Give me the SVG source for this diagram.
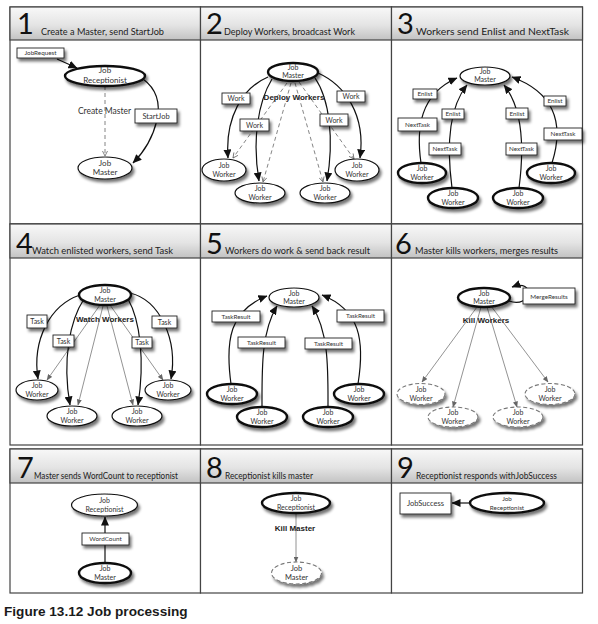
<svg xmlns="http://www.w3.org/2000/svg" width="598" height="624" viewBox="0 0 598 624">
<defs>
<linearGradient id="hdr" x1="0" y1="0" x2="0" y2="1">
<stop offset="0" stop-color="#f8f8f8"/><stop offset="0.55" stop-color="#e4e4e4"/><stop offset="1" stop-color="#c2c2c2"/>
</linearGradient>
<filter id="sh" x="-40%" y="-60%" width="180%" height="240%">
<feGaussianBlur in="SourceAlpha" stdDeviation="1.8"/><feOffset dx="1.5" dy="3" result="b"/>
<feComponentTransfer><feFuncA type="linear" slope="0.55"/></feComponentTransfer>
<feMerge><feMergeNode/><feMergeNode in="SourceGraphic"/></feMerge>
</filter>
<marker id="ah" markerUnits="userSpaceOnUse" markerWidth="9" markerHeight="8" refX="8.5" refY="4" orient="auto"><path d="M0,0 L9,4 L0,8 z" fill="#111"/></marker>
<marker id="oh" markerUnits="userSpaceOnUse" markerWidth="6" markerHeight="6" refX="5.5" refY="3" orient="auto"><path d="M0.5,0.5 L5.5,3 L0.5,5.5" fill="none" stroke="#666" stroke-width="0.8"/></marker>
<marker id="gh" markerUnits="userSpaceOnUse" markerWidth="6" markerHeight="5" refX="5.5" refY="2.5" orient="auto"><path d="M0,0 L6,2.5 L0,5 z" fill="#666"/></marker>
<style>
.pb{fill:#fff;stroke:#444;stroke-width:1.2}
.hd{fill:url(#hdr);stroke:#444;stroke-width:1.2}
.num{font-family:Lato,"Liberation Sans",sans-serif;font-size:29px;fill:#111}
.ttl{font-family:Lato,"Liberation Sans",sans-serif;font-size:9px;fill:#222}
.n{fill:#fff;stroke:#111;stroke-width:1.2;filter:url(#sh)}
.nt{fill:#fff;stroke:#111;stroke-width:2.4;filter:url(#sh)}
.nd{fill:#fff;stroke:#777;stroke-width:1.1;stroke-dasharray:4 2.5;filter:url(#sh)}
.bx{fill:#fff;stroke:#222;stroke-width:0.9;filter:url(#sh)}
.t{font-family:Lato,"Liberation Sans",sans-serif;font-size:7px;text-anchor:middle;fill:#333}
.s{font-size:6.3px}
.c{fill:none;stroke:#111;stroke-width:1.2;marker-end:url(#ah)}
.d{fill:none;stroke:#777;stroke-width:0.9;stroke-dasharray:4 3;marker-end:url(#oh)}
.g{fill:none;stroke:#777;stroke-width:0.8;marker-end:url(#gh)}
.bl{font-family:"Liberation Sans",Arial,sans-serif;font-weight:bold;font-size:8px;text-anchor:middle;fill:#222}
</style>
</defs>

<g id="panels">
<rect class="pb" x="10" y="7" width="190.5" height="217"/>
<rect class="pb" x="200.5" y="7" width="191" height="217"/>
<rect class="pb" x="391.5" y="7" width="191" height="217"/>
<rect class="pb" x="10" y="224" width="190.5" height="221"/>
<rect class="pb" x="200.5" y="224" width="191" height="221"/>
<rect class="pb" x="391.5" y="224" width="191" height="221"/>
<rect class="pb" x="10" y="449" width="190.5" height="144"/>
<rect class="pb" x="200.5" y="449" width="191" height="144"/>
<rect class="pb" x="391.5" y="449" width="191" height="144"/>
<rect class="hd" x="10" y="7" width="190.5" height="33"/>
<rect class="hd" x="200.5" y="7" width="191" height="33"/>
<rect class="hd" x="391.5" y="7" width="191" height="33"/>
<rect class="hd" x="10" y="224" width="190.5" height="34"/>
<rect class="hd" x="200.5" y="224" width="191" height="34"/>
<rect class="hd" x="391.5" y="224" width="191" height="34"/>
<rect class="hd" x="10" y="449" width="190.5" height="34"/>
<rect class="hd" x="200.5" y="449" width="191" height="34"/>
<rect class="hd" x="391.5" y="449" width="191" height="34"/>
<text class="num" x="17" y="34">1</text>
<text class="ttl" x="41" y="35" textLength="123" lengthAdjust="spacingAndGlyphs">Create a Master, send StartJob</text>
<text class="num" x="206" y="34">2</text>
<text class="ttl" x="224" y="35" textLength="131" lengthAdjust="spacingAndGlyphs">Deploy Workers, broadcast Work</text>
<text class="num" x="397" y="34">3</text>
<text class="ttl" x="416" y="35" textLength="153" lengthAdjust="spacingAndGlyphs">Workers send Enlist and NextTask</text>
<text class="num" x="16" y="254">4</text>
<text class="ttl" x="32" y="254" textLength="141" lengthAdjust="spacingAndGlyphs">Watch enlisted workers, send Task</text>
<text class="num" x="206" y="254">5</text>
<text class="ttl" x="225" y="254" textLength="145" lengthAdjust="spacingAndGlyphs">Workers do work &amp; send  back result</text>
<text class="num" x="395" y="254">6</text>
<text class="ttl" x="415" y="254" textLength="143" lengthAdjust="spacingAndGlyphs">Master kills workers, merges results</text>
<text class="num" x="17" y="478">7</text>
<text class="ttl" x="34" y="479" textLength="144" lengthAdjust="spacingAndGlyphs">Master sends WordCount to receptionist</text>
<text class="num" x="206" y="478">8</text>
<text class="ttl" x="225" y="479" textLength="88" lengthAdjust="spacingAndGlyphs">Receptionist kills master</text>
<text class="num" x="397" y="478">9</text>
<text class="ttl" x="416" y="479" textLength="141" lengthAdjust="spacingAndGlyphs">Receptionist responds withJobSuccess</text>
</g>

<g id="connectors">
<!-- panel 1 -->
<path class="c" d="M57,59 L77,68"/>
<path class="d" d="M105,86 L105,156"/>
<path class="c" d="M143,79 C158,90 160,106 157,120 C153,137 144,152 133,163"/>
<!-- panel 2 -->
<path class="d" d="M287,83 L233,158"/>
<path class="d" d="M291,83 L263,182"/>
<path class="d" d="M295,83 L323,182"/>
<path class="d" d="M299,82 L354,159"/>
<path class="c" d="M268,77 C242,88 225,118 228,158"/>
<path class="c" d="M272,79 C258,102 252,140 259,181"/>
<path class="c" d="M315,78 C330,100 334,140 327,181"/>
<path class="c" d="M318,73 C345,85 366,115 360,158"/>
<!-- panel 3 -->
<path class="c" d="M421,163 C416,128 420,94 457,78"/>
<path class="c" d="M452,188 C447,150 447,110 467,85"/>
<path class="c" d="M519,188 C524,150 524,110 504,85"/>
<path class="c" d="M552,163 C563,128 558,94 512,77"/>
<!-- panel 4 -->
<path class="g" d="M100,305 L47,380"/>
<path class="g" d="M103,306 L78,405"/>
<path class="g" d="M107,306 L133,405"/>
<path class="g" d="M110,305 L163,380"/>
<path class="c" d="M80,295 C50,305 32,340 38,379"/>
<path class="c" d="M84,299 C70,320 62,360 70,405"/>
<path class="c" d="M128,299 C140,320 145,360 138,405"/>
<path class="c" d="M130,293 C160,300 178,340 171,379"/>
<!-- panel 5 -->
<path class="c" d="M231,384 C225,340 230,310 267,296"/>
<path class="c" d="M262,407 C262,370 261,332 277,306"/>
<path class="c" d="M328,407 C328,370 329,332 312,306"/>
<path class="c" d="M358,384 C365,340 360,310 322,295"/>
<!-- panel 6 -->
<path class="c" d="M509,301 C532,309 536,278 512,287"/>
<path class="g" d="M477,307 L422,382"/>
<path class="g" d="M481,307 L453,407"/>
<path class="g" d="M487,307 L517,407"/>
<path class="g" d="M491,306 L548,382"/>
<!-- panel 7 -->
<path class="c" d="M105,563 L105,517"/>
<!-- panel 8 -->
<path class="g" d="M296,513 L296,562"/>
<!-- panel 9 -->
<path class="c" d="M470,503 L452,503"/>
</g>

<g id="edge-labels">
<text x="104.5" y="114" font-family="Lato, 'Liberation Sans', sans-serif" font-size="8.5" fill="#333" text-anchor="middle">Create Master</text>
<text class="bl" x="294" y="100">Deploy Workers</text>
<text class="bl" x="105" y="322">Watch Workers</text>
<text class="bl" x="486" y="323">Kill Workers</text>
<text class="bl" x="295" y="531">Kill Master</text>
</g>

<!-- panel 1 nodes -->
<g id="p1-jobrequest"><rect class="bx" x="17" y="48" width="47" height="10"/><text class="t s" x="40.5" y="55.3">JobRequest</text></g>
<g id="p1-receptionist"><ellipse class="nt" cx="105" cy="76" rx="40" ry="10"/><text class="t" style="font-size:8px" x="105" y="73">Job</text><text class="t" style="font-size:8px" x="105" y="83">Receptionist</text></g>
<g id="p1-startjob"><rect class="bx" x="135" y="109" width="42" height="14"/><text class="t" style="font-size:7.5px" x="156" y="118.5">StartJob</text></g>
<g id="p1-master"><ellipse class="n" cx="105" cy="168" rx="27" ry="11"/><text class="t" style="font-size:8px" x="105" y="166">Job</text><text class="t" style="font-size:8px" x="105" y="175">Master</text></g>

<!-- panel 2 nodes -->
<g id="p2-master"><ellipse class="nt" cx="293" cy="72" rx="25" ry="9"/><text class="t" x="293" y="70">Job</text><text class="t" x="293" y="78">Master</text></g>
<g id="p2-work1"><rect class="bx" x="222" y="93" width="28" height="11"/><text class="t" x="236" y="101">Work</text></g>
<g id="p2-work2"><rect class="bx" x="240" y="119" width="29" height="12"/><text class="t" x="254.5" y="127.5">Work</text></g>
<g id="p2-work3"><rect class="bx" x="320" y="114" width="28" height="12"/><text class="t" x="334" y="122.5">Work</text></g>
<g id="p2-work4"><rect class="bx" x="337" y="91" width="28" height="11"/><text class="t" x="351" y="99">Work</text></g>
<g id="p2-worker1"><ellipse class="n" cx="224" cy="170" rx="22" ry="11"/><text class="t" x="224" y="168">Job</text><text class="t" x="224" y="177">Worker</text></g>
<g id="p2-worker2"><ellipse class="n" cx="260" cy="193" rx="25" ry="10"/><text class="t" x="260" y="191">Job</text><text class="t" x="260" y="200">Worker</text></g>
<g id="p2-worker3"><ellipse class="n" cx="325" cy="193" rx="25" ry="10"/><text class="t" x="325" y="191">Job</text><text class="t" x="325" y="200">Worker</text></g>
<g id="p2-worker4"><ellipse class="n" cx="357" cy="170" rx="22" ry="11"/><text class="t" x="357" y="168">Job</text><text class="t" x="357" y="177">Worker</text></g>

<!-- panel 3 nodes -->
<g id="p3-master"><ellipse class="n" cx="485" cy="76" rx="25" ry="9"/><text class="t" x="485" y="74">Job</text><text class="t" x="485" y="82">Master</text></g>
<g id="p3-enlist1"><rect class="bx" x="413" y="89" width="24" height="10"/><text class="t s" x="425" y="96.3">Enlist</text></g>
<g id="p3-nexttask1"><rect class="bx" x="398" y="118" width="39" height="13"/><text class="t s" x="417.5" y="126.8">NextTask</text></g>
<g id="p3-enlist2"><rect class="bx" x="442" y="109" width="22" height="10"/><text class="t s" x="453" y="116.3">Enlist</text></g>
<g id="p3-nexttask2"><rect class="bx" x="429" y="143" width="32" height="12"/><text class="t s" x="445" y="151.3">NextTask</text></g>
<g id="p3-enlist3"><rect class="bx" x="506" y="108" width="22" height="11"/><text class="t s" x="517" y="115.8">Enlist</text></g>
<g id="p3-nexttask3"><rect class="bx" x="506" y="143" width="31" height="12"/><text class="t s" x="521.5" y="151.3">NextTask</text></g>
<g id="p3-enlist4"><rect class="bx" x="544" y="96" width="22" height="10"/><text class="t s" x="555" y="103.3">Enlist</text></g>
<g id="p3-nexttask4"><rect class="bx" x="544" y="128" width="38" height="12"/><text class="t s" x="563" y="136.3">NextTask</text></g>
<g id="p3-worker1"><ellipse class="nt" cx="422" cy="173" rx="24" ry="10"/><text class="t" x="422" y="171">Job</text><text class="t" x="422" y="180">Worker</text></g>
<g id="p3-worker2"><ellipse class="nt" cx="453" cy="198" rx="25" ry="10"/><text class="t" x="453" y="196">Job</text><text class="t" x="453" y="205">Worker</text></g>
<g id="p3-worker3"><ellipse class="nt" cx="518" cy="198" rx="25" ry="10"/><text class="t" x="518" y="196">Job</text><text class="t" x="518" y="205">Worker</text></g>
<g id="p3-worker4"><ellipse class="nt" cx="551" cy="173" rx="24" ry="10"/><text class="t" x="551" y="171">Job</text><text class="t" x="551" y="180">Worker</text></g>

<!-- panel 4 nodes -->
<g id="p4-master"><ellipse class="nt" cx="105" cy="295" rx="26" ry="10"/><text class="t" x="105" y="293">Job</text><text class="t" x="105" y="301.5">Master</text></g>
<g id="p4-task1"><rect class="bx" x="27" y="315" width="20" height="13"/><text class="t" x="37" y="324">Task</text></g>
<g id="p4-task2"><rect class="bx" x="53" y="335" width="21" height="12"/><text class="t" x="63.5" y="343.5">Task</text></g>
<g id="p4-task3"><rect class="bx" x="132" y="337" width="20" height="11"/><text class="t" x="142" y="345">Task</text></g>
<g id="p4-task4"><rect class="bx" x="152" y="316" width="25" height="12"/><text class="t" x="164.5" y="324.5">Task</text></g>
<g id="p4-worker1"><ellipse class="n" cx="37" cy="390" rx="21" ry="10"/><text class="t" x="37" y="388">Job</text><text class="t" x="37" y="397">Worker</text></g>
<g id="p4-worker2"><ellipse class="n" cx="72" cy="416" rx="25" ry="10"/><text class="t" x="72" y="414">Job</text><text class="t" x="72" y="423">Worker</text></g>
<g id="p4-worker3"><ellipse class="n" cx="137" cy="416" rx="25" ry="10"/><text class="t" x="137" y="414">Job</text><text class="t" x="137" y="423">Worker</text></g>
<g id="p4-worker4"><ellipse class="n" cx="168" cy="390" rx="23" ry="10"/><text class="t" x="168" y="388">Job</text><text class="t" x="168" y="397">Worker</text></g>

<!-- panel 5 nodes -->
<g id="p5-master"><ellipse class="n" cx="294" cy="297.5" rx="25" ry="9.5"/><text class="t" x="294" y="295.5">Job</text><text class="t" x="294" y="304">Master</text></g>
<g id="p5-result1"><rect class="bx" x="212" y="311" width="48" height="11"/><text class="t s" x="236" y="318.8">TaskResult</text></g>
<g id="p5-result2"><rect class="bx" x="238" y="337" width="47" height="11"/><text class="t s" x="261.5" y="344.8">TaskResult</text></g>
<g id="p5-result3"><rect class="bx" x="305" y="338" width="47" height="11"/><text class="t s" x="328.5" y="345.8">TaskResult</text></g>
<g id="p5-result4"><rect class="bx" x="337" y="310" width="47" height="12"/><text class="t s" x="360.5" y="318.3">TaskResult</text></g>
<g id="p5-worker1"><ellipse class="nt" cx="232" cy="394" rx="25" ry="10"/><text class="t" x="232" y="392">Job</text><text class="t" x="232" y="401">Worker</text></g>
<g id="p5-worker2"><ellipse class="nt" cx="262" cy="417" rx="25" ry="10"/><text class="t" x="262" y="415">Job</text><text class="t" x="262" y="424">Worker</text></g>
<g id="p5-worker3"><ellipse class="nt" cx="328" cy="417" rx="25" ry="10"/><text class="t" x="328" y="415">Job</text><text class="t" x="328" y="424">Worker</text></g>
<g id="p5-worker4"><ellipse class="nt" cx="359" cy="394" rx="25" ry="10"/><text class="t" x="359" y="392">Job</text><text class="t" x="359" y="401">Worker</text></g>

<!-- panel 6 nodes -->
<g id="p6-master"><ellipse class="nt" cx="484" cy="297.5" rx="26" ry="9.5"/><text class="t" x="484" y="295.5">Job</text><text class="t" x="484" y="304">Master</text></g>
<g id="p6-mergeresults"><rect class="bx" x="523" y="288" width="52" height="16"/><text class="t s" x="549" y="298.5">MergeResults</text></g>
<g id="p6-worker1"><ellipse class="nd" cx="421" cy="394" rx="24" ry="10.5"/><text class="t" x="421" y="392">Job</text><text class="t" x="421" y="401">Worker</text></g>
<g id="p6-worker2"><ellipse class="nd" cx="453" cy="417" rx="25" ry="10"/><text class="t" x="453" y="415">Job</text><text class="t" x="453" y="424">Worker</text></g>
<g id="p6-worker3"><ellipse class="nd" cx="518" cy="417" rx="25" ry="10"/><text class="t" x="518" y="415">Job</text><text class="t" x="518" y="424">Worker</text></g>
<g id="p6-worker4"><ellipse class="nd" cx="550" cy="394" rx="25" ry="10.5"/><text class="t" x="550" y="392">Job</text><text class="t" x="550" y="401">Worker</text></g>

<!-- panel 7 nodes -->
<g id="p7-receptionist"><ellipse class="n" cx="104.5" cy="505" rx="33" ry="11"/><text class="t" x="104.5" y="503">Job</text><text class="t" x="104.5" y="512">Receptionist</text></g>
<g id="p7-wordcount"><rect class="bx" x="82" y="533" width="47" height="12"/><text class="t s" x="105.5" y="541.3">WordCount</text></g>
<g id="p7-master"><ellipse class="nt" cx="105" cy="573" rx="26" ry="10"/><text class="t" x="105" y="571">Job</text><text class="t" x="105" y="580">Master</text></g>

<!-- panel 8 nodes -->
<g id="p8-receptionist"><ellipse class="nt" cx="296" cy="503" rx="34" ry="10"/><text class="t" x="296" y="501">Job</text><text class="t" x="296" y="510">Receptionist</text></g>
<g id="p8-master"><ellipse class="nd" cx="296.5" cy="573" rx="25" ry="11"/><text class="t" style="font-size:7.5px" x="296.5" y="571">Job</text><text class="t" style="font-size:7.5px" x="296.5" y="580">Master</text></g>

<!-- panel 9 nodes -->
<g id="p9-jobsuccess"><rect class="bx" x="400" y="493" width="51" height="21"/><text class="t" style="font-size:7.5px" x="425.5" y="506">JobSuccess</text></g>
<g id="p9-receptionist"><ellipse class="nt" cx="507" cy="503" rx="37" ry="10"/><text class="t s" x="507" y="501">Job</text><text class="t s" x="507" y="510">Receptionist</text></g>

<text x="4" y="616" font-family="'Liberation Sans', Arial, sans-serif" font-weight="bold" font-size="13.6" fill="#1a1a1a">Figure 13.12 Job processing</text>
</svg>
